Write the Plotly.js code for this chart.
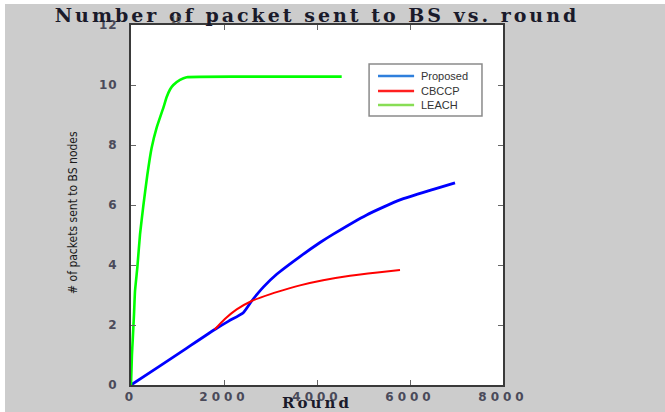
<!DOCTYPE html>
<html>
<head>
<meta charset="utf-8">
<script src="https://cdn.plot.ly/plotly-3.0.1.min.js"></script>
<style>
html,body{margin:0;padding:0;background:#ffffff;}
#chart{position:absolute;left:5px;top:4px;width:660px;height:408px;}
#chart .gtitle{letter-spacing:3px;}
#chart .xtick text{letter-spacing:4px;}
#chart .ytick text{letter-spacing:1px;}
#chart .xtitle{letter-spacing:3px;}
</style>
</head>
<body>
<div id="chart"></div>
<script>
// Proposed
const proposedRound = [0, 600, 1200, 1843, 2100, 2415, 2596, 2850, 3133, 3634, 4065, 4351, 5068, 5785, 6502, 6968];
const proposedPackets = [0, 0.61, 1.23, 1.89, 2.13, 2.41, 2.8, 3.27, 3.69, 4.28, 4.75, 5.03, 5.67, 6.17, 6.52, 6.74];
// CBCCP
const cbccpRound = [1800, 2018, 2273, 2596, 3000, 3400, 3634, 4131, 4710, 5300, 5785];
const cbccpPackets = [1.85, 2.2, 2.52, 2.8, 3.03, 3.22, 3.32, 3.49, 3.64, 3.75, 3.83];
// LEACH
const leachRound = [0, 20, 36, 65, 86, 136, 194, 265, 351, 444, 552, 695, 767, 839, 910, 1054, 1197, 2415, 4531];
const leachPackets = [0, 1.0, 1.47, 2.37, 3.13, 3.91, 5.02, 5.97, 7.0, 7.91, 8.58, 9.24, 9.6, 9.85, 10.0, 10.17, 10.26, 10.28, 10.28];

const seriesNames = ['Proposed', 'CBCCP', 'LEACH'];
const seriesColors = ['#0000ff', '#ff0000', '#00ff00'];
const legendColors = ['#2f7fdc', '#ff2020', '#88dd55'];
const xTicks = [0, 2000, 4000, 6000, 8000];
const yTicks = [0, 2, 4, 6, 8, 10, 12];
const yTitle = '# of packets sent to BS nodes';

const traces = [
  {x: proposedRound, y: proposedPackets, name: seriesNames[0], mode: 'lines', line: {color: seriesColors[0], width: 2.8, shape: 'spline', smoothing: 0.5}},
  {x: cbccpRound, y: cbccpPackets, name: seriesNames[1], mode: 'lines', line: {color: seriesColors[1], width: 2, shape: 'spline', smoothing: 0.6}},
  {x: leachRound, y: leachPackets, name: seriesNames[2], mode: 'lines', line: {color: seriesColors[2], width: 2.6, shape: 'spline', smoothing: 0.4}}
];

// Custom legend (box, sample lines, labels) positioned in paper coordinates
const legBox = {x0: 0.64, x1: 0.9435, y0: 0.747, y1: 0.8917};
const legRows = [0.8583, 0.8167, 0.7778];
const shapes = [
  {type: 'rect', xref: 'paper', yref: 'paper', x0: legBox.x0, x1: legBox.x1, y0: legBox.y0, y1: legBox.y1,
   fillcolor: '#ffffff', line: {color: '#8a8a8a', width: 1.5}, layer: 'above'}
];
const annotations = [];
seriesNames.forEach((n, i) => {
  shapes.push({type: 'line', xref: 'paper', yref: 'paper', x0: 0.664, x1: 0.761, y0: legRows[i], y1: legRows[i],
               line: {color: legendColors[i], width: 2.5}, layer: 'above'});
  annotations.push({text: n, xref: 'paper', yref: 'paper', x: 0.774, y: legRows[i], xanchor: 'left', yanchor: 'middle',
                    showarrow: false, font: {family: 'Liberation Sans, Arial, sans-serif', size: 11, color: '#333333'}});
});
annotations.push({text: '10', xref: 'paper', yref: 'paper', x: 0.12, y: 1.0, xanchor: 'center', yanchor: 'bottom', yshift: -2,
                  showarrow: false, font: {family: 'DejaVu Sans, sans-serif', size: 8, color: '#555555'}});
annotations.push({text: yTitle, xref: 'paper', yref: 'paper', x: 0, y: 0.478, xshift: -58, textangle: -90,
                  xanchor: 'center', yanchor: 'middle', showarrow: false,
                  font: {family: 'DejaVu Sans Condensed, Liberation Sans Narrow, sans-serif', size: 12, color: '#1a1a1a'}});

const tickFont = {family: 'DejaVu Sans, Verdana, sans-serif', size: 12, color: '#4a4a5a', weight: 'bold'};

const layout = {
  width: 660, height: 408,
  paper_bgcolor: '#cccccc',
  plot_bgcolor: '#ffffff',
  margin: {l: 126, r: 162, t: 21, b: 27},
  showlegend: false,
  title: {
    text: '<b>Number of packet sent to BS vs. round</b>',
    font: {family: 'DejaVu Serif, serif', size: 19, color: '#1a1a2a'},
    x: 0.5, xref: 'paper', y: 0.988, yref: 'container', yanchor: 'top'
  },
  xaxis: {
    range: [0, 8000], tickvals: xTicks, ticktext: xTicks.map(String),
    showgrid: false, zeroline: false,
    showline: true, linecolor: '#3a3a3a', linewidth: 2, mirror: 'ticks',
    ticks: 'inside', ticklen: 5, tickcolor: '#666666', tickwidth: 1,
    tickfont: tickFont, ticklabelstandoff: 0,
    title: {text: '<b>Round</b>', font: {family: 'DejaVu Serif, serif', size: 15, color: '#1a1a2a'}, standoff: 0}
  },
  yaxis: {
    range: [0, 12], tickvals: yTicks, ticktext: yTicks.map(String),
    showgrid: false, zeroline: false,
    showline: true, linecolor: '#3a3a3a', linewidth: 2, mirror: 'ticks',
    ticks: 'inside', ticklen: 5, tickcolor: '#666666', tickwidth: 1,
    tickfont: tickFont, ticklabelstandoff: 9
  },
  shapes: shapes,
  annotations: annotations
};

Plotly.newPlot('chart', traces, layout, {displayModeBar: false, staticPlot: true});
</script>
</body>
</html>
